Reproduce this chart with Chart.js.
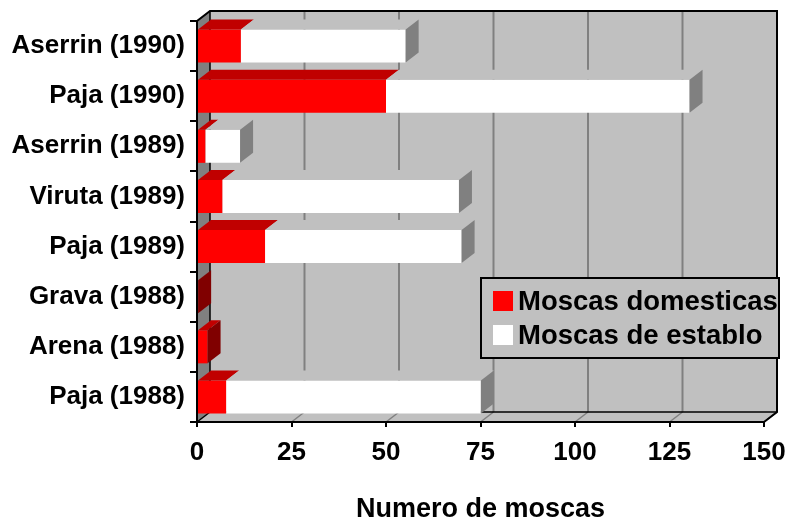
<!DOCTYPE html>
<html>
<head>
<meta charset="utf-8">
<script src="https://cdn.jsdelivr.net/npm/chart.js@4/dist/chart.umd.min.js"></script>
<style>
  html, body { margin: 0; padding: 0; background: #fff; }
  #wrap { width: 791px; height: 520px; position: relative; }
</style>
</head>
<body>
<div id="wrap"><canvas id="chart"></canvas></div>
<script>
// Datos
const categorias = ['Aserrin (1990)', 'Paja (1990)', 'Aserrin (1989)', 'Viruta (1989)',
                    'Paja (1989)', 'Grava (1988)', 'Arena (1988)', 'Paja (1988)'];
const domesticas = [11.6, 50, 2.2, 6.7, 18, 0.3, 2.8, 7.7];
const establo = [43.6, 80.3, 9.2, 62.6, 52, 0, 0, 67.4];
const marcasX = [0, 25, 50, 75, 100, 125, 150];

// profundidad del efecto 3D
const DX = 13;
const DY = -10;

const colores = {
    domesticas: { front: '#ff0000', top: '#c00000', side: '#800000' },
    establo: { front: '#ffffff', top: '#c0c0c0', side: '#808080' }
};

const fontFamily = '"Liberation Sans", Arial, sans-serif';

const line = (ctx, pts, color, width) => {
    ctx.beginPath();
    ctx.moveTo(pts[0][0], pts[0][1]);
    for (let i = 1; i < pts.length; i++) ctx.lineTo(pts[i][0], pts[i][1]);
    ctx.strokeStyle = color;
    ctx.lineWidth = width;
    ctx.stroke();
};

const poly = (ctx, pts, fill) => {
    ctx.beginPath();
    ctx.moveTo(pts[0][0], pts[0][1]);
    for (let i = 1; i < pts.length; i++) ctx.lineTo(pts[i][0], pts[i][1]);
    ctx.closePath();
    ctx.fillStyle = fill;
    ctx.fill();
};

// paredes, piso y rejilla del fondo
const walls = {
    id: 'walls',
    beforeDraw(chart) {
        const { ctx, chartArea: { left, top, right, bottom } } = chart;
        const xs = chart.scales.x;
        ctx.save();
        // pared del fondo
        poly(ctx, [[left + DX, top + DY], [right + DX, top + DY], [right + DX, bottom + DY], [left + DX, bottom + DY]], '#c0c0c0');
        // pared izquierda
        poly(ctx, [[left, top], [left + DX, top + DY], [left + DX, bottom + DY], [left, bottom]], '#808080');
        // piso
        poly(ctx, [[left, bottom], [right, bottom], [right + DX, bottom + DY], [left + DX, bottom + DY]], '#c0c0c0');

        marcasX.forEach(v => {
            if (v === 0) return;
            const px = xs.getPixelForValue(v);
            line(ctx, [[px + DX, top + DY], [px + DX, bottom + DY]], '#808080', 2);
            line(ctx, [[px, bottom], [px + DX, bottom + DY]], '#808080', 1.5);
        });

        // bordes
        line(ctx, [[left, top], [left + DX, top + DY], [right + DX, top + DY], [right + DX, bottom + DY], [right, bottom]], '#000', 2);
        line(ctx, [[left + DX, top + DY], [left + DX, bottom + DY], [right + DX, bottom + DY]], '#000', 1.5);
        line(ctx, [[left, bottom], [left + DX, bottom + DY]], '#000', 1.5);
        ctx.restore();
    }
};

// caras superior y lateral de las barras
const bars3d = {
    id: 'bars3d',
    afterDatasetsDraw(chart) {
        const ctx = chart.ctx;
        const sets = chart.data.datasets;
        ctx.save();
        categorias.forEach((c, j) => {
            let last = null;
            sets.forEach((ds, i) => {
                const el = chart.getDatasetMeta(i).data[j];
                const { x, y, base, height } = el.getProps(['x', 'y', 'base', 'height'], true);
                const t = y - height / 2;
                if (ds.data[j] > 0) {
                    poly(ctx, [[base, t], [x, t], [x + DX, t + DY], [base + DX, t + DY]], ds.faces.top);
                    last = { x, t, b: y + height / 2, side: ds.faces.side };
                }
            });
            if (last) {
                poly(ctx, [[last.x, last.t], [last.x + DX, last.t + DY], [last.x + DX, last.b + DY], [last.x, last.b]], last.side);
            }
        });
        ctx.restore();
    }
};

// leyenda dentro del area
const leyenda = {
    id: 'leyenda',
    afterDraw(chart) {
        const ctx = chart.ctx;
        ctx.save();
        ctx.fillStyle = '#c0c0c0';
        ctx.fillRect(481, 278, 298, 80);
        ctx.strokeStyle = '#000';
        ctx.lineWidth = 2;
        ctx.strokeRect(481, 278, 298, 80);
        ctx.font = 'bold 27.5px ' + fontFamily;
        ctx.textBaseline = 'middle';
        chart.data.datasets.forEach((ds, i) => {
            const yy = 301 + i * 34;
            ctx.fillStyle = ds.backgroundColor;
            ctx.fillRect(493, yy - 10, 20, 20);
            ctx.fillStyle = '#000';
            ctx.fillText(ds.label, 518, yy + 1);
        });
        ctx.restore();
    }
};

new Chart(document.getElementById('chart'), {
    type: 'bar',
    data: {
        labels: categorias,
        datasets: [
            {
                label: 'Moscas domesticas',
                data: domesticas,
                backgroundColor: colores.domesticas.front,
                faces: colores.domesticas,
                borderWidth: 0,
                categoryPercentage: 0.66,
                barPercentage: 1
            },
            {
                label: 'Moscas de establo',
                data: establo,
                backgroundColor: colores.establo.front,
                faces: colores.establo,
                borderWidth: 0,
                categoryPercentage: 0.66,
                barPercentage: 1
            }
        ]
    },
    options: {
        indexAxis: 'y',
        responsive: true,
        maintainAspectRatio: false,
        animation: false,
        layout: { padding: { top: 21, right: 27, left: 0, bottom: 0 } },
        plugins: {
            legend: { display: false },
            tooltip: { enabled: false }
        },
        scales: {
            x: {
                stacked: true,
                min: 0,
                max: 150,
                afterBuildTicks: scale => { scale.ticks = marcasX.map(v => ({ value: v })); },
                afterFit: scale => {
                    scale.height = 98;
                    scale.paddingLeft = 0;
                    scale.paddingRight = 0;
                },
                grid: { drawOnChartArea: false, drawTicks: true, tickLength: 5, color: '#000', lineWidth: 2 },
                border: { display: true, color: '#000', width: 2 },
                ticks: {
                    color: '#000',
                    padding: 10,
                    font: { family: fontFamily, size: 26, weight: 'bold' }
                },
                title: {
                    display: true,
                    text: 'Numero de moscas',
                    color: '#000',
                    padding: { top: 0, bottom: 0 },
                    font: { family: fontFamily, size: 27, weight: 'bold', lineHeight: 0.8 }
                }
            },
            y: {
                stacked: true,
                afterFit: scale => {
                    scale.width = 197;
                    scale.paddingTop = 0;
                    scale.paddingBottom = 0;
                },
                grid: { offset: true, drawOnChartArea: false, drawTicks: true, tickLength: 7, color: '#000', lineWidth: 2 },
                border: { display: true, color: '#000', width: 2 },
                ticks: {
                    color: '#000',
                    padding: 5,
                    font: { family: fontFamily, size: 26, weight: 'bold' }
                }
            }
        }
    },
    plugins: [walls, bars3d, leyenda]
});
</script>
</body>
</html>
